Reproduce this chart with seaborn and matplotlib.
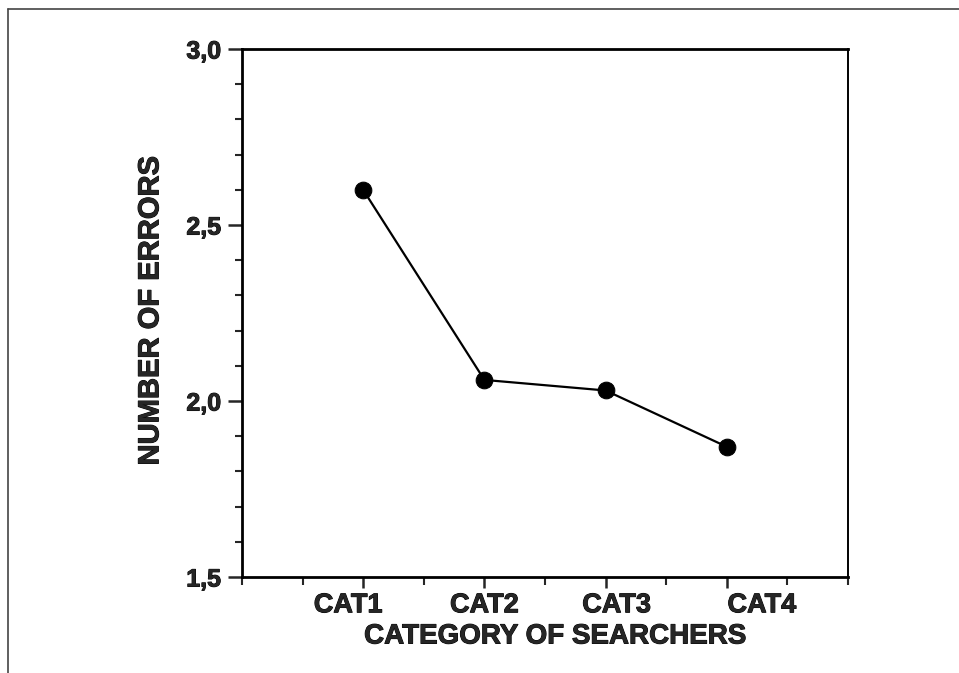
import matplotlib
matplotlib.use("Agg")
import matplotlib.pyplot as plt
import matplotlib.transforms as mtransforms
import matplotlib.patheffects as pe
from matplotlib.lines import Line2D
from matplotlib.ticker import MultipleLocator
import seaborn as sns
import pandas as pd

# data
categories = ["CAT1", "CAT2", "CAT3", "CAT4"]
positions = [1, 2, 3, 4]
errors = [2.60, 2.06, 2.03, 1.87]
y_ticks = [1.5, 2.0, 2.5, 3.0]

df = pd.DataFrame({"pos": positions, "errors": errors})

sns.set_style("ticks")
plt.rcParams["font.family"] = ["Liberation Sans", "DejaVu Sans"]
plt.rcParams["font.weight"] = "bold"

fig = plt.figure(figsize=(9.59, 6.73), dpi=100)
ax = fig.add_axes([0.2523, 0.1426, 0.632, 0.7845])

sns.lineplot(data=df, x="pos", y="errors", ax=ax, color="black",
             marker="o", markersize=12, markeredgecolor="black",
             linewidth=1.6)

ax.set_xlim(0, 5)
ax.set_ylim(1.5, 3.0)

ax.xaxis.set_minor_locator(MultipleLocator(0.5))
ax.yaxis.set_minor_locator(MultipleLocator(0.1))

ax.tick_params(axis="x", which="major", length=8, width=1.8, pad=3, direction="out", labelsize=19.5)
ax.tick_params(axis="x", which="minor", length=6, width=1.5, direction="out")
ax.tick_params(axis="y", which="major", length=10, width=1.8, pad=5, direction="out", labelsize=18)
ax.tick_params(axis="y", which="minor", length=5, width=1.5, direction="out")

# x axis: categories at integers
ax.set_xticks(positions)
ax.set_xticklabels(categories, fontweight="bold")
ax.set_yticks(y_ticks)
ax.set_yticklabels([f"{v:.1f}".replace(".", ",") for v in y_ticks], fontweight="bold")

# labels in the original sit a little off their ticks
label_shift = [-15, 0, 11, 35]
for lab, dx in zip(ax.get_xticklabels(), label_shift):
    lab.set_transform(lab.get_transform() + mtransforms.ScaledTranslation(dx / 100, 0, fig.dpi_scale_trans))

for side in ["left", "bottom", "top"]:
    ax.spines[side].set_linewidth(2.0)
    ax.spines[side].set_color("black")
ax.spines["right"].set_linewidth(1.4)
ax.spines["right"].set_color("black")

ax.set_xlabel("CATEGORY OF SEARCHERS", fontsize=20, fontweight="bold")
ax.set_ylabel("NUMBER OF ERRORS", fontsize=21, fontweight="bold")
ax.xaxis.set_label_coords(0.5165, -0.088)
ax.yaxis.set_label_coords(-0.128, 0.505)

# the printed type is heavier than Liberation bold, thicken it a bit
heavy = [pe.withStroke(linewidth=0.7, foreground="black")]
for t in ax.get_xticklabels() + ax.get_yticklabels() + [ax.xaxis.label, ax.yaxis.label]:
    t.set_path_effects(heavy)

# scan border along the top and left edges
fig.add_artist(Line2D([7.5 / 959, 1.0], [1 - 9 / 673, 1 - 9 / 673], color="#444444", linewidth=1.2))
fig.add_artist(Line2D([7.5 / 959, 7.5 / 959], [0.0, 1 - 9 / 673], color="#444444", linewidth=1.2))

fig.savefig("out.png", dpi=100)
